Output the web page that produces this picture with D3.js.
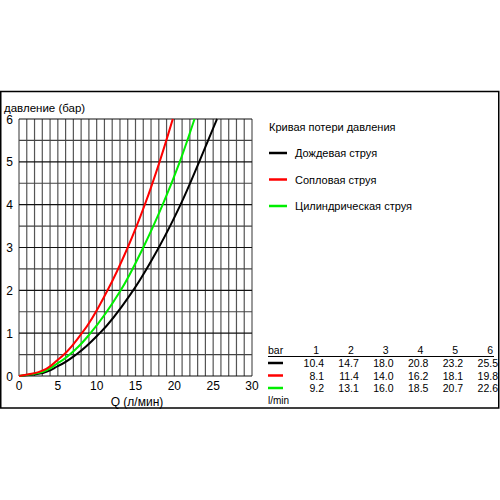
<!DOCTYPE html>
<html><head><meta charset="utf-8">
<script src="https://cdn.jsdelivr.net/npm/d3@7"></script>
<style>body{margin:0;background:#fff}svg{display:block}text{font-family:"Liberation Sans",Arial,sans-serif;fill:#000}</style>
</head><body>
<svg id="c" width="500" height="500"></svg>
<script>
// ---- data ----
const seriesNames = ["Дождевая струя", "Сопловая струя", "Цилиндрическая струя"];
const seriesColors = ["#000000", "#ff0000", "#00ee00"];
const pressureBar = [1, 2, 3, 4, 5, 6];
const flowRain = [10.4, 14.7, 18.0, 20.8, 23.2, 25.5];
const flowNozzle = [8.1, 11.4, 14.0, 16.2, 18.1, 19.8];
const flowCylinder = [9.2, 13.1, 16.0, 18.5, 20.7, 22.6];
// low-flow part of the curves (Q, bar)
const lowRain = [[0, 0], [2.5, 0.05], [5, 0.23], [7.5, 0.52]];
const lowNozzle = [[0, 0], [2.5, 0.09], [5, 0.38]];
const lowCylinder = [[0, 0], [2.5, 0.07], [5, 0.3], [7.5, 0.66]];
const xTicks = [0, 5, 10, 15, 20, 25, 30];
const yTicks = [0, 1, 2, 3, 4, 5, 6];
const tableValues = [flowRain, flowNozzle, flowCylinder];
const tableFmt = d3.format(".1f");

const svg = d3.select("#c");
// frame
svg.append("rect").attr("x", 0.75).attr("y", 91.5).attr("width", 498).attr("height", 316.5)
  .attr("fill", "none").attr("stroke", "#000").attr("stroke-width", 1.5);

const x = d3.scaleLinear().domain([0, 30]).range([19, 252]);
const y = d3.scaleLinear().domain([0, 6]).range([376, 119]);

// grid
const g = svg.append("g");
g.selectAll("line.v").data(d3.range(0, 31)).join("line")
  .attr("x1", d => x(d)).attr("x2", d => x(d)).attr("y1", y(0)).attr("y2", y(6))
  .attr("stroke", "#555").attr("stroke-width", 1.2);
g.selectAll("line.h").data(d3.range(0, 6.01, 0.5)).join("line")
  .attr("y1", d => y(d)).attr("y2", d => y(d)).attr("x1", x(0)).attr("x2", x(30))
  .attr("stroke", d => Number.isInteger(d) ? "#111" : "#444").attr("stroke-width", 1.2);

// ticks
svg.append("g").selectAll("text").data(xTicks).join("text")
  .attr("x", d => x(d)).attr("y", 390).attr("text-anchor", "middle")
  .attr("font-size", 12).text(d => d);
svg.append("g").selectAll("text").data(yTicks).join("text")
  .attr("x", 13).attr("y", d => y(d) + 4.5).attr("text-anchor", "end")
  .attr("font-size", 12).text(d => d);
svg.append("text").attr("x", 4).attr("y", 112).attr("font-size", 11.5).text("давление (бар)");
svg.append("text").attr("x", 137).attr("y", 406).attr("text-anchor", "middle").attr("font-size", 12).text("Q (л/мин)");

// curves
const lows = [lowRain, lowNozzle, lowCylinder];
const line = d3.line().x(d => x(d[0])).y(d => y(d[1])).curve(d3.curveMonotoneY);
const drawOrder = [0, 2, 1];
drawOrder.forEach(i => {
  const pts = lows[i].concat(tableValues[i].map((q, k) => [q, pressureBar[k]]));
  svg.append("path").datum(pts).attr("d", line)
    .attr("fill", "none").attr("stroke", seriesColors[i]).attr("stroke-width", 2);
});

// legend
svg.append("text").attr("x", 269).attr("y", 131).attr("font-size", 11).text("Кривая потери давления");
const lg = svg.append("g").selectAll("g").data(seriesNames).join("g")
  .attr("transform", (d, i) => `translate(0,${153 + i * 26.5})`);
lg.append("line").attr("x1", 269).attr("x2", 287).attr("stroke", (d, i) => seriesColors[i]).attr("stroke-width", 2.5);
lg.append("text").attr("x", 295).attr("y", 4).attr("font-size", 11).text(d => d);

// table
const col = d3.scalePoint().domain(pressureBar).range([319, 493]);
svg.append("text").attr("x", 268).attr("y", 354).attr("font-size", 10.5).text("bar");
svg.append("g").selectAll("text").data(pressureBar).join("text")
  .attr("x", d => col(d)).attr("y", 354).attr("text-anchor", "end").attr("font-size", 10.5).text(d => d);
svg.append("line").attr("x1", 268).attr("x2", 494).attr("y1", 356.5).attr("y2", 356.5).attr("stroke", "#000").attr("stroke-width", 1);
tableValues.forEach((vals, i) => {
  const ry = 363 + i * 12.5;
  svg.append("line").attr("x1", 268).attr("x2", 283).attr("y1", ry).attr("y2", ry)
    .attr("stroke", seriesColors[i]).attr("stroke-width", 2.5);
  svg.append("g").selectAll("text").data(vals).join("text")
    .attr("x", (d, k) => col(pressureBar[k]) + 5).attr("y", ry + 4).attr("text-anchor", "end")
    .attr("font-size", 10.5).text(d => tableFmt(d));
});
svg.append("text").attr("x", 268).attr("y", 404).attr("font-size", 10).text("l/min");
</script>
</body></html>
